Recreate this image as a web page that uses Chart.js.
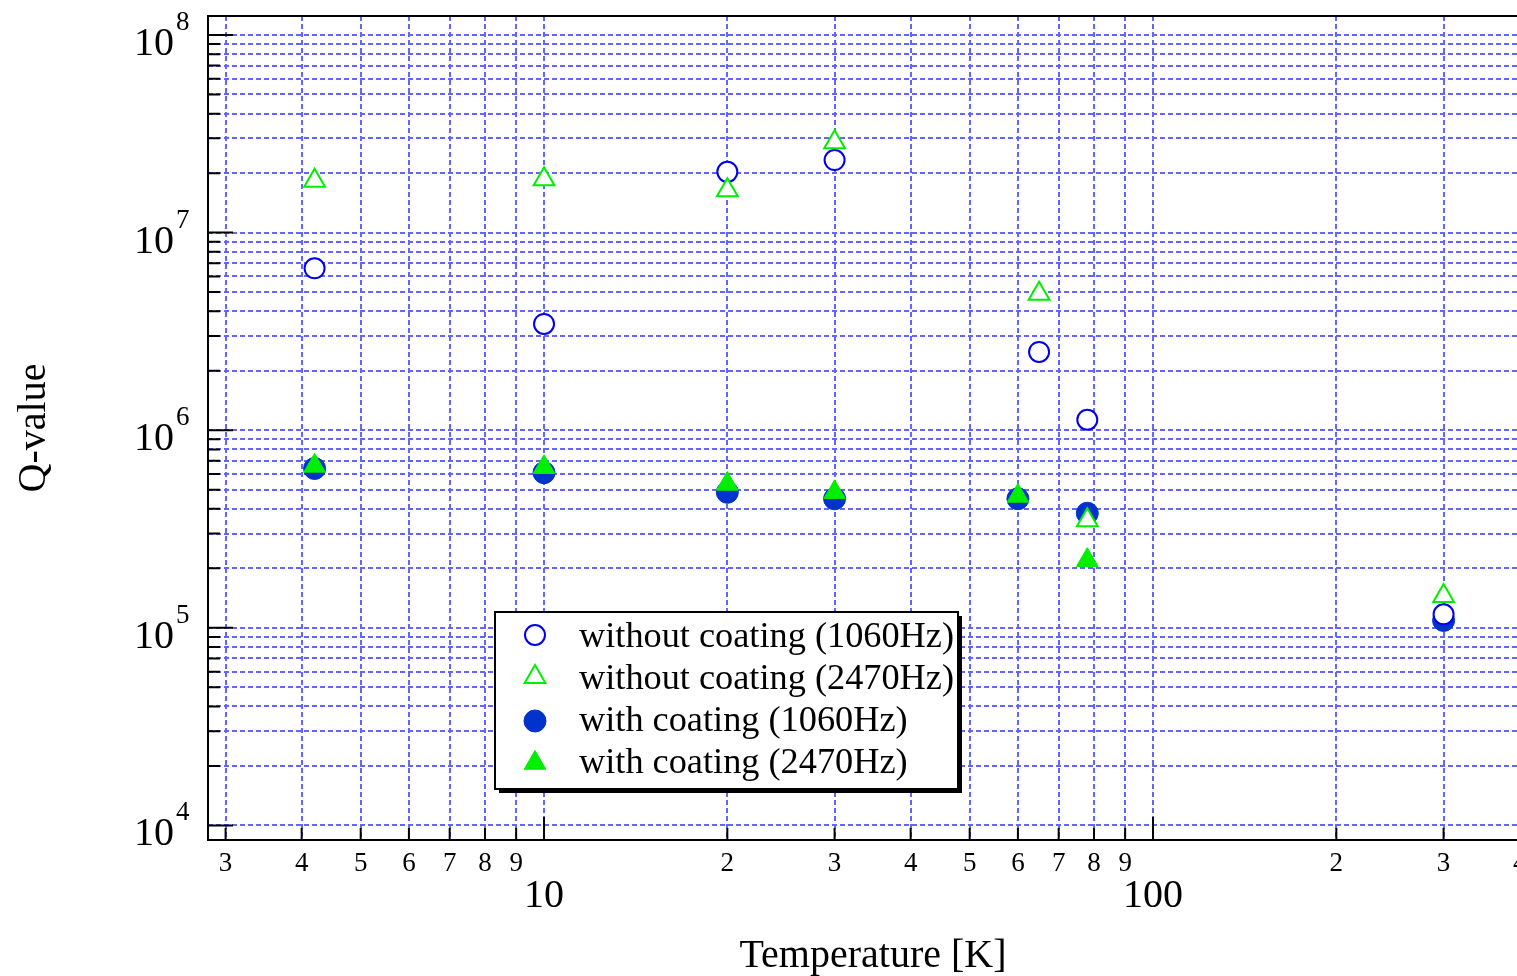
<!DOCTYPE html>
<html>
<head>
<meta charset="utf-8">
<script src="https://cdn.jsdelivr.net/npm/chart.js@4.4.0/dist/chart.umd.min.js"></script>
<style>
  html, body { margin: 0; padding: 0; background: #fff; overflow: hidden; }
</style>
</head>
<body>
<canvas id="chart" width="1517" height="976"></canvas>
<script>
// data (temperature in K, Q-value)
const tempWithout1060 = [4.2, 10, 20, 30, 65, 78, 300];
const qWithout1060 = [6.6e6, 3.45e6, 2.03e7, 2.33e7, 2.49e6, 1.13e6, 1.17e5];
const tempWithout2470 = [4.2, 10, 20, 30, 65, 78, 300];
const qWithout2470 = [1.83e7, 1.86e7, 1.64e7, 2.87e7, 4.9e6, 3.5e5, 1.45e5];
const tempWith1060 = [4.2, 10, 20, 30, 60, 78, 300];
const qWith1060 = [6.4e5, 6.1e5, 4.85e5, 4.5e5, 4.5e5, 3.8e5, 1.09e5];
const tempWith2470 = [4.2, 10, 20, 30, 60, 78];
const qWith2470 = [6.6e5, 6.5e5, 5.35e5, 4.85e5, 4.65e5, 2.2e5];

const seriesNames = [
  'without coating (1060Hz)',
  'without coating (2470Hz)',
  'with coating (1060Hz)',
  'with coating (2470Hz)'
];

// axis ticks and labels
const xGridValues = [3, 4, 5, 6, 7, 8, 9, 10, 20, 30, 40, 50, 60, 70, 80, 90, 100, 200, 300];
const xMinorTicks = [3, 4, 5, 6, 7, 8, 9, 20, 30, 40, 50, 60, 70, 80, 90, 200, 300, 400];
const xMinorLabels = ['3', '4', '5', '6', '7', '8', '9', '2', '3', '4', '5', '6', '7', '8', '9', '2', '3', '4'];
const xMajorTicks = [10, 100];
const xMajorLabels = ['10', '100'];
const yMajorTicks = [1e4, 1e5, 1e6, 1e7, 1e8];
const yMajorExps = ['4', '5', '6', '7', '8'];
const yGridValues = [];
for (let e = 4; e < 8; e++) {
  for (let m = 1; m <= 9; m++) yGridValues.push(m * Math.pow(10, e));
}
yGridValues.push(1e8);

const SERIF = '"Liberation Serif", "Times New Roman", serif';
const BLUE_OPEN = '#0000ee';
const BLUE_FILL = '#0033cc';
const GREEN = '#00ee00';
const GRID = 'rgb(100, 100, 255)';

function toPoints(xs, ys) {
  return xs.map((x, i) => ({ x: x, y: ys[i] }));
}

const styles = [
  { pointStyle: 'circle', radius: 10, borderColor: BLUE_OPEN, backgroundColor: '#fff', borderWidth: 2 },
  { pointStyle: 'triangle', radius: 12, borderColor: GREEN, backgroundColor: '#fff', borderWidth: 2 },
  { pointStyle: 'circle', radius: 11, borderColor: BLUE_FILL, backgroundColor: BLUE_FILL, borderWidth: 1 },
  { pointStyle: 'triangle', radius: 12.5, borderColor: GREEN, backgroundColor: GREEN, borderWidth: 1 }
];

// frame, inward ticks, tick labels, titles and legend
const decorPlugin = {
  id: 'decor',
  afterDraw(chart) {
    const { ctx, chartArea: a, scales: { x, y } } = chart;
    ctx.save();

    // frame
    ctx.strokeStyle = '#000';
    ctx.lineWidth = 2;
    ctx.setLineDash([]);
    ctx.beginPath();
    ctx.moveTo(a.right + 2, a.top);
    ctx.lineTo(a.left, a.top);
    ctx.lineTo(a.left, a.bottom);
    ctx.lineTo(a.right + 2, a.bottom);
    ctx.stroke();

    // x ticks (pointing inward)
    ctx.lineWidth = 2;
    ctx.beginPath();
    xMinorTicks.forEach(v => {
      const px = x.getPixelForValue(v);
      if (px > a.right) return;
      ctx.moveTo(px, a.bottom);
      ctx.lineTo(px, a.bottom - 12);
    });
    xMajorTicks.forEach(v => {
      const px = x.getPixelForValue(v);
      ctx.moveTo(px, a.bottom);
      ctx.lineTo(px, a.bottom - 23);
    });
    // y ticks
    yGridValues.forEach(v => {
      const py = y.getPixelForValue(v);
      const major = yMajorTicks.includes(v);
      ctx.moveTo(a.left, py);
      ctx.lineTo(a.left + (major ? 25 : 12), py);
    });
    ctx.stroke();

    // x tick labels
    ctx.fillStyle = '#000';
    ctx.textAlign = 'center';
    ctx.textBaseline = 'alphabetic';
    ctx.font = '27px ' + SERIF;
    xMinorTicks.forEach((v, i) => {
      ctx.fillText(xMinorLabels[i], x.getPixelForValue(v), a.bottom + 31);
    });
    ctx.font = '40px ' + SERIF;
    xMajorTicks.forEach((v, i) => {
      ctx.fillText(xMajorLabels[i], x.getPixelForValue(v), a.bottom + 67);
    });

    // y tick labels: 10 with superscript exponent
    yMajorTicks.forEach((v, i) => {
      const py = y.getPixelForValue(v);
      ctx.font = '40px ' + SERIF;
      ctx.textAlign = 'right';
      ctx.fillText('10', 174, py + 20);
      ctx.font = '27px ' + SERIF;
      ctx.textAlign = 'left';
      ctx.fillText(yMajorExps[i], 176, py - 5);
    });

    // axis titles
    ctx.font = '40px ' + SERIF;
    ctx.textAlign = 'center';
    ctx.fillText('Temperature [K]', 873, 967);
    ctx.save();
    ctx.translate(45, 428);
    ctx.rotate(-Math.PI / 2);
    ctx.fillText('Q-value', 0, 0);
    ctx.restore();

    // legend box with shadow
    const lx = 495, ly = 612, lw = 463, lh = 177;
    ctx.fillStyle = '#000';
    ctx.fillRect(lx + 4, ly + 4, lw, lh);
    ctx.fillStyle = '#fff';
    ctx.fillRect(lx, ly, lw, lh);
    ctx.strokeStyle = '#000';
    ctx.lineWidth = 2;
    ctx.strokeRect(lx, ly, lw, lh);

    const rowY = [635, 677, 721, 763];
    seriesNames.forEach((name, i) => {
      const s = styles[i];
      const mx = 535, my = rowY[i];
      ctx.beginPath();
      if (s.pointStyle === 'circle') {
        ctx.arc(mx, my, s.radius, 0, Math.PI * 2);
      } else {
        const r = s.radius;
        ctx.moveTo(mx, my - r);
        ctx.lineTo(mx + r * Math.sin(Math.PI / 3), my + r / 2);
        ctx.lineTo(mx - r * Math.sin(Math.PI / 3), my + r / 2);
        ctx.closePath();
      }
      ctx.fillStyle = s.backgroundColor;
      ctx.fill();
      ctx.lineWidth = s.borderWidth;
      ctx.strokeStyle = s.borderColor;
      ctx.stroke();

      ctx.fillStyle = '#000';
      ctx.font = '36.3px ' + SERIF;
      ctx.textAlign = 'left';
      ctx.fillText(name, 579, 647 + i * 42);
    });

    ctx.restore();
  }
};

const ctx = document.getElementById('chart').getContext('2d');
new Chart(ctx, {
  type: 'scatter',
  data: {
    datasets: [
      Object.assign({ label: seriesNames[0], data: toPoints(tempWithout1060, qWithout1060), order: 1 }, styles[0]),
      Object.assign({ label: seriesNames[1], data: toPoints(tempWithout2470, qWithout2470), order: 0 }, styles[1]),
      Object.assign({ label: seriesNames[2], data: toPoints(tempWith1060, qWith1060), order: 3 }, styles[2]),
      Object.assign({ label: seriesNames[3], data: toPoints(tempWith2470, qWith2470), order: 2 }, styles[3])
    ].map(d => Object.assign(d, { pointRadius: d.radius, pointHoverRadius: d.radius }))
  },
  options: {
    responsive: false,
    animation: false,
    devicePixelRatio: 1,
    layout: { autoPadding: false, padding: { left: 208, top: 16, right: 0, bottom: 136 } },
    plugins: { legend: { display: false }, tooltip: { enabled: false } },
    scales: {
      x: {
        type: 'logarithmic',
        min: 2.807,
        max: 396,
        afterBuildTicks: scale => { scale.ticks = xGridValues.map(v => ({ value: v })); },
        ticks: { display: false },
        grid: { color: GRID, lineWidth: 2, drawTicks: false },
        border: { display: false, dash: [5, 3] }
      },
      y: {
        type: 'logarithmic',
        min: 8440,
        max: 1.248e8,
        afterBuildTicks: scale => { scale.ticks = yGridValues.map(v => ({ value: v })); },
        ticks: { display: false },
        grid: { color: GRID, lineWidth: 2, drawTicks: false },
        border: { display: false, dash: [5, 3] }
      }
    }
  },
  plugins: [decorPlugin]
});
</script>
</body>
</html>
